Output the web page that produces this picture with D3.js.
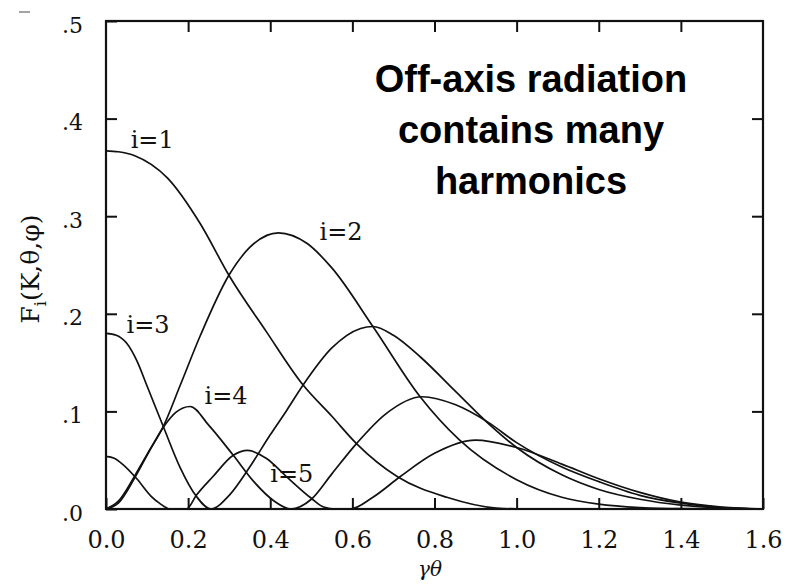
<!DOCTYPE html>
<html>
<head>
<meta charset="utf-8">
<script src="https://cdn.jsdelivr.net/npm/d3@7"></script>
<style>
  html, body { margin: 0; padding: 0; background: #fff; }
  svg { display: block; }
</style>
</head>
<body>
<svg id="chart" width="792" height="584"></svg>
<script>
// ---------------- data ----------------
const xTicks = [0, 0.2, 0.4, 0.6, 0.8, 1.0, 1.2, 1.4, 1.6];
const xTickLabels = ["0.0", "0.2", "0.4", "0.6", "0.8", "1.0", "1.2", "1.4", "1.6"];
const yTicks = [0, 0.1, 0.2, 0.3, 0.4, 0.5];
const yTickLabels = [".0", ".1", ".2", ".3", ".4", ".5"];

const harmonicNames = ["i=1", "i=2", "i=3", "i=4", "i=5"];

const harmonic1 = [[0,0.367],[0.03,0.366],[0.07,0.362],[0.15,0.339],[0.23,0.292],[0.30,0.239],[0.39,0.182],[0.48,0.127],[0.55,0.095],[0.61,0.067],[0.71,0.033],[0.83,0.012],[0.95,0.001],[1.02,0],[1.6,0]];
const harmonic2 = [[0,0],[0.03,0.008],[0.07,0.034],[0.10,0.056],[0.14,0.085],[0.18,0.126],[0.23,0.178],[0.30,0.240],[0.35,0.268],[0.42,0.283],[0.49,0.272],[0.55,0.247],[0.65,0.187],[0.765,0.115],[0.86,0.071],[1.0,0.030],[1.11,0.012],[1.2,0.005],[1.3,0.0015],[1.4,0.0003],[1.6,0]];
const harmonic3 = [[0,0.180],[0.025,0.178],[0.05,0.170],[0.075,0.152],[0.10,0.126],[0.14,0.084],[0.18,0.043],[0.22,0.013],[0.255,0],[0.30,0.014],[0.35,0.043],[0.40,0.076],[0.44,0.101],[0.48,0.127],[0.55,0.165],[0.62,0.185],[0.65,0.187],[0.70,0.178],[0.765,0.156],[0.85,0.121],[0.93,0.088],[1.0,0.063],[1.11,0.035],[1.2,0.020],[1.3,0.010],[1.4,0.004],[1.5,0.001],[1.6,0]];
const harmonic4 = [[0,0],[0.03,0.006],[0.07,0.032],[0.10,0.055],[0.14,0.084],[0.17,0.099],[0.205,0.105],[0.25,0.086],[0.31,0.055],[0.36,0.028],[0.41,0.008],[0.45,0],[0.50,0.010],[0.55,0.036],[0.61,0.067],[0.68,0.097],[0.77,0.115],[0.85,0.107],[0.93,0.089],[1.0,0.068],[1.11,0.043],[1.2,0.028],[1.3,0.014],[1.4,0.006],[1.5,0.0015],[1.6,0]];
const harmonic5 = [[0,0.054],[0.02,0.052],[0.04,0.046],[0.075,0.031],[0.11,0.013],[0.13,0.006],[0.156,0],[0.196,0],[0.22,0.014],[0.26,0.033],[0.31,0.055],[0.345,0.060],[0.39,0.052],[0.44,0.033],[0.50,0.011],[0.53,0.002],[0.56,0],[0.595,0],[0.65,0.012],[0.716,0.033],[0.80,0.057],[0.90,0.0705],[1.0,0.063],[1.11,0.046],[1.2,0.031],[1.3,0.017],[1.4,0.007],[1.5,0.002],[1.6,0]];

const harmonics = [harmonic1, harmonic2, harmonic3, harmonic4, harmonic5];
const labelAnchors = [[0.06, 0.370], [0.52, 0.276], [0.05, 0.180], [0.24, 0.108], [0.40, 0.028]];

const titleLines = ["Off-axis radiation", "contains many", "harmonics"];

// ---------------- layout ----------------
const svg = d3.select("#chart");
const plotLeft = 106, plotRight = 763, plotTop = 21, plotBottom = 509;
const x = d3.scaleLinear().domain([0, 1.6]).range([plotLeft, plotRight]);
const y = d3.scaleLinear().domain([0, 0.5]).range([plotBottom, plotTop]);
const serif = "'DejaVu Serif', serif";
const ink = "#111";

// curves
const line = d3.line().x(d => x(d[0])).y(d => y(d[1])).curve(d3.curveMonotoneX);
svg.append("g").selectAll("path").data(harmonics).join("path")
  .attr("d", line)
  .attr("fill", "none")
  .attr("stroke", ink)
  .attr("stroke-width", 1.7);

// axes with inward ticks
const tickLen = 11;
const xAxisB = d3.axisBottom(x).tickValues(xTicks)
  .tickFormat((d, i) => xTickLabels[i]).tickSizeInner(-tickLen).tickSizeOuter(0).tickPadding(22);
const xAxisT = d3.axisTop(x).tickValues(xTicks.slice(1, -1))
  .tickFormat("").tickSizeInner(-tickLen).tickSizeOuter(0);
const yAxisL = d3.axisLeft(y).tickValues(yTicks)
  .tickFormat((d, i) => yTickLabels[i]).tickSizeInner(-tickLen).tickSizeOuter(0).tickPadding(23);
const yAxisR = d3.axisRight(y).tickValues(yTicks.slice(1, -1))
  .tickFormat("").tickSizeInner(-tickLen).tickSizeOuter(0);

function styleAxis(g, size) {
  g.select(".domain").remove();
  g.selectAll(".tick line").attr("stroke", ink).attr("stroke-width", 2);
  g.selectAll(".tick text").attr("fill", ink).attr("font-family", serif).attr("font-size", size);
}
svg.append("g").attr("transform", `translate(0,${plotBottom})`).call(xAxisB).call(g => styleAxis(g, 24));
svg.append("g").attr("transform", `translate(0,${plotTop})`).call(xAxisT).call(g => styleAxis(g, 24));
svg.append("g").attr("transform", `translate(${plotLeft},0)`).call(yAxisL).call(g => styleAxis(g, 22))
  .selectAll(".tick text").attr("dy", "0.5em");
svg.append("g").attr("transform", `translate(${plotRight},0)`).call(yAxisR).call(g => styleAxis(g, 22));

// frame
svg.append("rect")
  .attr("x", plotLeft).attr("y", plotTop)
  .attr("width", plotRight - plotLeft).attr("height", plotBottom - plotTop)
  .attr("fill", "none").attr("stroke", ink).attr("stroke-width", 2.2);

// harmonic labels
svg.append("g").selectAll("text").data(harmonicNames).join("text")
  .attr("x", (d, i) => x(labelAnchors[i][0]))
  .attr("y", (d, i) => y(labelAnchors[i][1]))
  .attr("font-family", serif)
  .attr("font-size", 24)
  .attr("fill", ink)
  .text(d => d);

// x-axis title
svg.append("text")
  .attr("x", 430).attr("y", 576)
  .attr("text-anchor", "middle")
  .attr("font-family", serif).attr("font-style", "italic").attr("font-size", 20)
  .attr("fill", ink)
  .text("γθ");

// y-axis title F_i(K,θ,φ)
const yt = svg.append("text")
  .attr("transform", "translate(39,269) rotate(-90)")
  .attr("text-anchor", "middle")
  .attr("font-family", serif).attr("font-size", 25)
  .attr("fill", ink);
yt.append("tspan").text("F");
yt.append("tspan").attr("font-size", 16).attr("dy", "0.45em").text("i");
yt.append("tspan").attr("dy", "-0.3em").text("(K,θ,φ)");

// annotation
svg.append("g").selectAll("text").data(titleLines).join("text")
  .attr("x", 531)
  .attr("y", (d, i) => 92 + i * 51)
  .attr("text-anchor", "middle")
  .attr("font-family", "'Liberation Sans', Arial, sans-serif")
  .attr("font-weight", "bold")
  .attr("font-size", 38)
  .attr("fill", "#000")
  .text(d => d);

// small scan mark at top-left
svg.append("line").attr("x1", 19).attr("x2", 30).attr("y1", 12).attr("y2", 12)
  .attr("stroke", "#666").attr("stroke-width", 1.2);
</script>
</body>
</html>
